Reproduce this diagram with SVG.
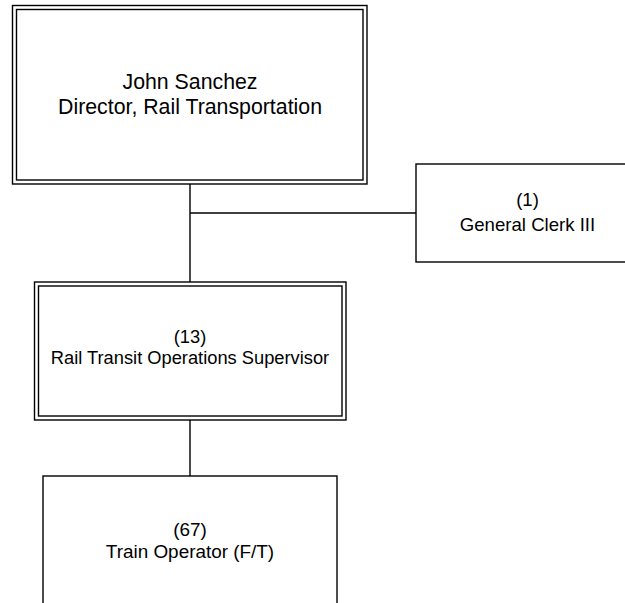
<svg xmlns="http://www.w3.org/2000/svg" width="625" height="603" viewBox="0 0 625 603">
<style>
.box{fill:#fff;stroke:#000;stroke-width:1.4}
.ln{fill:none;stroke:#000;stroke-width:1.4}
text{font-family:"Liberation Sans",Arial,sans-serif;fill:#000;text-anchor:middle}
.t20{font-size:21.3px}
.t18{font-size:18.3px}
.tc{font-size:18.6px}
.to{font-size:18.9px}
</style>
<rect width="625" height="603" fill="#fff"/>
<g id="connectors">
<path class="ln" d="M190 184V282M190 213H416M190 420V476"/>
</g>
<g id="director">
<rect class="box" x="12.5" y="5.5" width="354.5" height="178.5"/>
<rect class="box" x="16.5" y="9.5" width="346.5" height="170.5"/>
<text class="t20" x="190" y="89">John Sanchez</text>
<text class="t20" x="190" y="113.5">Director, Rail Transportation</text>
</g>
<g id="clerk">
<rect class="box" x="416" y="164" width="223" height="98"/>
<text class="tc" x="527.5" y="206">(1)</text>
<text class="tc" x="527.5" y="230.5">General Clerk III</text>
</g>
<g id="supervisor">
<rect class="box" x="34.5" y="282" width="311.5" height="138"/>
<rect class="box" x="38.5" y="286" width="303.5" height="130"/>
<text class="t18" x="190" y="343">(13)</text>
<text class="t18" x="190" y="364">Rail Transit Operations Supervisor</text>
</g>
<g id="operator">
<rect class="box" x="43" y="476" width="294" height="140"/>
<text class="to" x="190" y="536">(67)</text>
<text class="to" x="190" y="557.5">Train Operator (F/T)</text>
</g>
</svg>
